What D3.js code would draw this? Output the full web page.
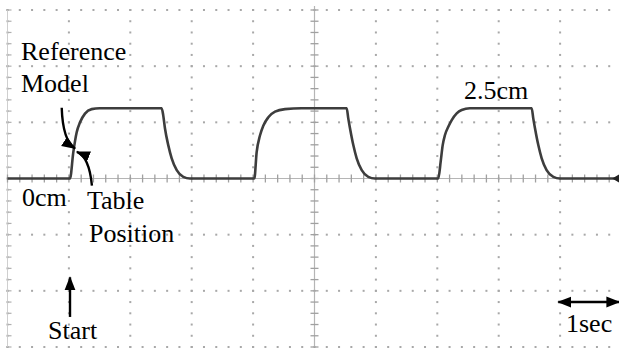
<!DOCTYPE html>
<html>
<head>
<meta charset="utf-8">
<script src="https://cdn.jsdelivr.net/npm/d3@7"></script>
<style>
  html, body { margin: 0; padding: 0; background: #fff; }
  svg { display: block; }
</style>
</head>
<body>
<svg id="scope" width="619" height="354"></svg>
<script>
// Table position trace: time (s) and displacement (cm)
const traceTime = [
  0, 1.018, 1.072, 1.127, 1.181, 1.262, 1.371, 1.50, 2.511, 2.537, 2.565, 2.619, 2.674, 2.756, 2.863, 2.972,
  4.020, 4.058, 4.112, 4.166, 4.248, 4.357, 4.52, 4.79, 5.524, 5.550, 5.578, 5.632, 5.687, 5.769, 5.876, 5.985,
  7.016, 7.055, 7.088, 7.125, 7.179, 7.235, 7.316, 7.397, 7.53, 8.537, 8.563, 8.591, 8.645, 8.700, 8.780, 8.890, 8.998,
  9.93
];
const traceCm = [
  0, 0, 0.94, 1.65, 2.0, 2.31, 2.47, 2.5, 2.5, 2.24, 1.78, 1.18, 0.72, 0.30, 0.06, 0,
  0, 0.94, 1.53, 1.88, 2.18, 2.38, 2.47, 2.5, 2.5, 2.14, 1.79, 1.19, 0.72, 0.30, 0.06, 0,
  0, 0.60, 1.19, 1.55, 1.84, 2.08, 2.32, 2.44, 2.5, 2.5, 2.14, 1.79, 1.19, 0.72, 0.30, 0.06, 0,
  0
];

// Screen divisions: 1 s per horizontal division, 2 cm per vertical division
const timeDivisions = [0, 1, 2, 3, 4, 5, 6, 7, 8, 9, 10];
const cmDivisions = [-6, -4, -2, 0, 2, 4, 6];

// Text labels (position in time / cm)
const labelText = ["Reference", "Model", "0cm", "Table", "Position", "Start", "2.5cm", "1sec"];
const labelTime = [0.22, 0.22, 0.236, 1.295, 1.327, 0.66, 7.435, 9.096];
const labelCm   = [4.22, 3.08, -0.98, -1.086, -2.26, -5.72, 2.82, -5.47];

const svg = d3.select("#scope");
const x = d3.scaleLinear().domain([0, 10]).range([7.5, 621.5]);
const y = d3.scaleLinear().domain([-6, 6]).range([347, 10]);

const grid = svg.append("g").attr("class", "graticule");
const dotColor = "#a8a8a8";

// minor positions
const minorT = d3.range(0, 10.0001, 0.2);
const minorC = d3.range(-6, 6.0001, 0.4);

// dotted vertical division lines (skip centre)
timeDivisions.filter(t => t !== 5).forEach(t => {
  grid.selectAll(null).data(minorC).join("rect")
    .attr("x", x(t) - 1).attr("y", d => y(d) - 1)
    .attr("width", 2).attr("height", 2).attr("fill", dotColor);
});
// dotted horizontal division lines (skip centre)
cmDivisions.filter(c => c !== 0).forEach(c => {
  grid.selectAll(null).data(minorT).join("rect")
    .attr("x", d => x(d) - 1).attr("y", y(c) - 1)
    .attr("width", 2).attr("height", 2).attr("fill", dotColor);
});

// left border with short ticks
grid.append("line").attr("x1", x(0)).attr("x2", x(0)).attr("y1", y(6)).attr("y2", y(-6))
  .attr("stroke", "#cfcfcf").attr("stroke-width", 1);
grid.selectAll(null).data(minorC).join("line")
  .attr("x1", x(0)).attr("x2", x(0) + 4).attr("y1", d => y(d)).attr("y2", d => y(d))
  .attr("stroke", "#b0b0b0").attr("stroke-width", 1.2);

// centre axes with minor ticks
grid.append("line").attr("x1", x(5)).attr("x2", x(5)).attr("y1", y(6) - 4).attr("y2", y(-6))
  .attr("stroke", "#b5b5b5").attr("stroke-width", 1.2);
grid.selectAll(null).data(minorC).join("line")
  .attr("x1", x(5) - 4).attr("x2", x(5) + 4).attr("y1", d => y(d)).attr("y2", d => y(d))
  .attr("stroke", "#a0a0a0").attr("stroke-width", 1.3);
grid.append("line").attr("x1", x(0)).attr("x2", x(10)).attr("y1", y(0)).attr("y2", y(0))
  .attr("stroke", "#b5b5b5").attr("stroke-width", 1.2);
grid.selectAll(null).data(minorT).join("line")
  .attr("x1", d => x(d)).attr("x2", d => x(d)).attr("y1", y(0) - 4).attr("y2", y(0) + 4)
  .attr("stroke", "#a0a0a0").attr("stroke-width", 1.3);

// trace
const pts = traceTime.map((t, i) => [t, traceCm[i]]);
const line = d3.line().x(d => x(d[0])).y(d => y(d[1])).curve(d3.curveMonotoneX);
svg.append("path").datum(pts).attr("d", line)
  .attr("fill", "none").attr("stroke", "#3d3d3d").attr("stroke-width", 2.6)
  .attr("stroke-linejoin", "round");

// ground-level marker at the right edge
const gx = x(9.93), gy = y(0);
svg.append("path")
  .attr("d", `M${gx - 5},${gy}L${gx + 2},${gy - 4}L${gx + 2},${gy + 4}Z`)
  .attr("fill", "#222");

// arrowhead marker
const defs = svg.append("defs");
defs.append("marker").attr("id", "head")
  .attr("viewBox", "0 -6 14 12").attr("refX", 13).attr("refY", 0)
  .attr("markerUnits", "userSpaceOnUse").attr("markerWidth", 14).attr("markerHeight", 12)
  .attr("orient", "auto-start-reverse")
  .append("path").attr("d", "M0,-5.5L14,0L0,5.5Z").attr("fill", "#000");

const ann = svg.append("g").attr("class", "annotations");
function curveArrow(a, c, b) {
  const p = d3.path();
  p.moveTo(x(a[0]), y(a[1]));
  p.quadraticCurveTo(x(c[0]), y(c[1]), x(b[0]), y(b[1]));
  return p.toString();
}
// Reference model pointer
ann.append("path").attr("d", curveArrow([0.883, 2.52], [0.90, 1.35], [1.10, 1.07]))
  .attr("fill", "none").attr("stroke", "#000").attr("stroke-width", 2.4)
  .attr("marker-end", "url(#head)");
// Table position pointer
ann.append("path").attr("d", curveArrow([1.375, -0.25], [1.33, 0.78], [1.13, 0.95]))
  .attr("fill", "none").attr("stroke", "#000").attr("stroke-width", 2.4)
  .attr("marker-end", "url(#head)");
// Start pointer
ann.append("path").attr("d", d3.line()([[x(1.018), y(-4.93)], [x(1.018), y(-3.52)]]))
  .attr("fill", "none").attr("stroke", "#000").attr("stroke-width", 2.4)
  .attr("marker-end", "url(#head)");
// one-second span
ann.append("path").attr("d", d3.line()([[x(8.97), y(-4.40)], [x(9.965), y(-4.40)]]))
  .attr("fill", "none").attr("stroke", "#000").attr("stroke-width", 2.4)
  .attr("marker-start", "url(#head)").attr("marker-end", "url(#head)");

// labels
ann.selectAll("text").data(labelText).join("text")
  .attr("x", (d, i) => x(labelTime[i]))
  .attr("y", (d, i) => y(labelCm[i]))
  .attr("font-family", "'Liberation Serif', 'Times New Roman', serif")
  .attr("font-size", 26)
  .attr("fill", "#000")
  .text(d => d);
</script>
</body>
</html>
